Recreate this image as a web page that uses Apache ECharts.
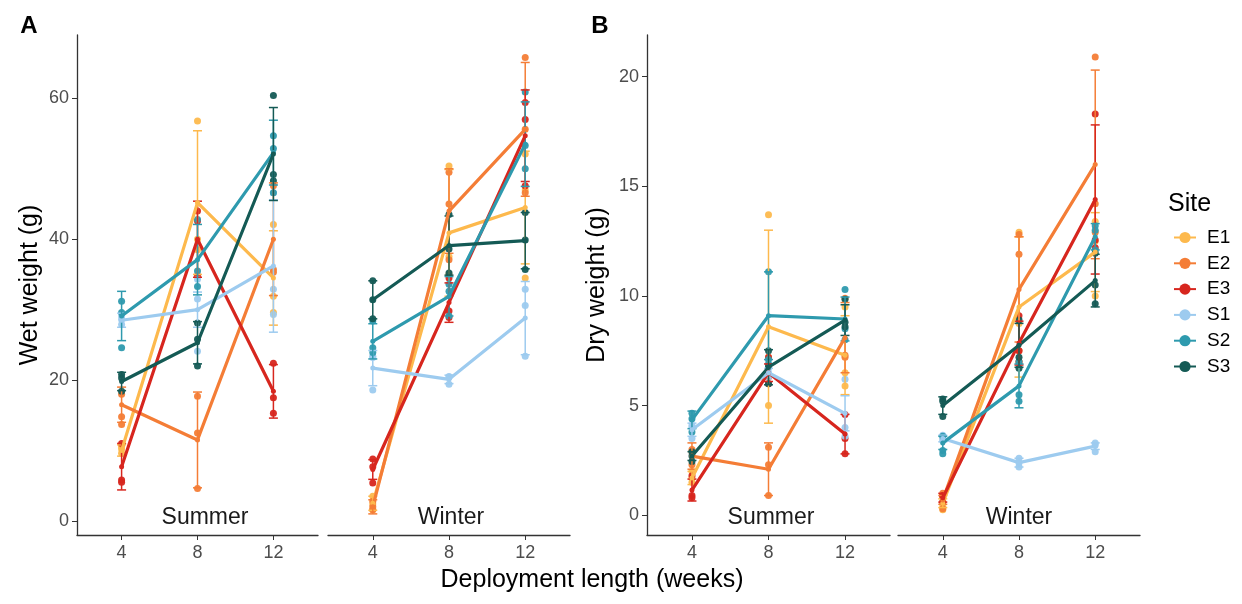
<!DOCTYPE html>
<html>
<head>
<meta charset="utf-8">
<script src="https://cdn.jsdelivr.net/npm/echarts@6/dist/echarts.min.js"></script>
<style>
html, body { margin: 0; background: #fff; }
#chart { width: 1242px; height: 604px; }
</style>
</head>
<body>
<div id="chart"></div>
<script>
// x positions (weeks) and sites
const weeks = [4, 8, 12];
const sites = ['E1', 'E2', 'E3', 'S1', 'S2', 'S3'];
const siteColors = ['#FDB94D', '#F47D36', '#D7261E', '#9DCBEF', '#2E9AAE', '#145A55'];

const wetTicks = [0, 20, 40, 60];
const dryTicks = [0, 5, 10, 15, 20];

// wet weight, summer: mean per week, error half-width, replicate points
const wetSummerMean = [
	[10, 45.2, 34.5], [16.5, 11.5, 40], [7.7, 40, 18.4],
	[28.5, 30, 36.2], [29.1, 37.1, 52.3], [19.8, 25.3, 52.1]
];
const wetSummerErr = [
	[0.8, 10.2, 6.7], [2.5, 6.8, 8], [3.3, 5.4, 3.8],
	[1, 2.5, 9.4], [3.5, 5, 4.6], [1.3, 3, 6.6]
];
const wetSummerPts = [
	[[10.2, 9.6, 10.6], [56.8, 40, 38.5], [42.1, 31.9, 29.6]],
	[[14.8, 13.7, 18], [17.7, 12.5, 4.6], [47.6, 35.7, 35.3]],
	[[11.0, 5.8, 5.5], [44.0, 42.6, 34.8], [22.4, 17.5, 15.3]],
	[[27.9, 29.1, 28.6], [31.5, 24.1, 34.3], [46.6, 32.9, 29.3]],
	[[31.2, 29.6, 24.6], [42.8, 35.5, 33.3], [54.7, 52.9, 46.6]],
	[[20.8, 20.3, 18.4], [28.1, 22.0, 25.8], [60.4, 49.2, 48.3]]
];

// wet weight, winter
const wetWinterMean = [
	[2.5, 40.9, 44.5], [2.0, 44.0, 55.6], [7.3, 31.0, 54.7],
	[21.7, 20.1, 28.8], [25.5, 31.9, 53.5], [31.4, 39.1, 39.8]
];
const wetWinterErr = [
	[1, 9, 8], [1, 6, 9.5], [1.4, 2.8, 6.5],
	[2.5, 0.6, 5.2], [2.5, 2.8, 6], [2.7, 4.2, 4]
];
const wetWinterPts = [
	[[3.5, 1.6, 2.4], [50.4, 37.5, 35], [52.1, 34.5, 47]],
	[[2.8, 2.0, 1.6], [49.5, 37.1, 45], [65.8, 55.6, 46.6]],
	[[7.7, 5.4, 8.8], [34.5, 29.8, 28.9], [59.4, 47.6, 57]],
	[[23.4, 18.6, 23.2], [20.4, 19.4, 20.5], [32.9, 30.6, 23.4]],
	[[24.6, 23.9, 28.4], [33.6, 32.6, 29.1], [60.9, 53.3, 50.0]],
	[[34.1, 28.7, 31.4], [43.5, 35.2, 38.6], [43.8, 35.7, 39.9]]
];

// dry weight, summer
const drySummerMean = [
	[1.7, 8.6, 7.3], [2.7, 2.1, 8.1], [1.15, 6.5, 3.7],
	[3.9, 6.5, 4.65], [4.35, 9.1, 8.95], [2.7, 6.75, 8.9]
];
const drySummerErr = [
	[0.3, 4.4, 1.8], [0.6, 1.2, 1.6], [0.5, 0.4, 0.9],
	[0.3, 0.2, 0.8], [0.4, 2.0, 1.0], [0.2, 0.8, 0.7]
];
const drySummerPts = [
	[[1.7, 1.5, 2.0], [13.7, 7.2, 5.0], [9.5, 6.5, 5.9]],
	[[2.3, 2.9, 3.0], [3.1, 0.9, 2.3], [9.9, 7.3, 7.2]],
	[[1.8, 0.9, 0.8], [6.3, 6.0, 7.2], [4.6, 3.5, 2.8]],
	[[4.0, 3.5, 4.1], [6.5, 6.7, 6.3], [6.2, 4.0, 3.6]],
	[[4.65, 4.4, 3.8], [11.1, 7.1, 6.9], [10.3, 8.0, 8.5]],
	[[2.7, 2.45, 2.9], [7.5, 6.0, 6.8], [9.85, 8.8, 8.6]]
];

// dry weight, winter
const dryWinterMean = [
	[0.55, 9.5, 12.0], [0.7, 10.3, 16.0], [0.8, 7.85, 14.4],
	[3.5, 2.4, 3.15], [3.3, 5.9, 12.7], [5.0, 7.75, 10.7]
];
const dryWinterErr = [
	[0.2, 3.2, 1.8], [0.2, 2.4, 4.3], [0.2, 1.0, 3.4],
	[0.15, 0.2, 0.15], [0.3, 1.0, 0.6], [0.4, 1.0, 1.2]
];
const dryWinterPts = [
	[[0.4, 0.25, 0.9], [12.9, 8.75, 7.0], [13.4, 10.0, 12.5]],
	[[0.6, 0.3, 1.0], [12.8, 11.9, 7.5], [20.9, 14.2, 12.9]],
	[[0.85, 0.6, 0.9], [9.1, 7.5, 7.0], [18.3, 12.55, 12.2]],
	[[3.65, 3.4, 3.5], [2.6, 2.2, 2.4], [3.3, 2.9, 3.2]],
	[[3.6, 2.95, 2.8], [5.5, 5.2, 7.0], [13.2, 13.0, 12.1]],
	[[5.3, 4.5, 5.2], [8.9, 7.2, 6.7], [11.95, 9.65, 10.5]]
];

const FONT = 'Liberation Sans';
const axisColor = '#333';
const labelColor = '#4d4d4d';

const facets = [
	{ mean: wetSummerMean, err: wetSummerErr, pts: wetSummerPts },
	{ mean: wetWinterMean, err: wetWinterErr, pts: wetWinterPts },
	{ mean: drySummerMean, err: drySummerErr, pts: drySummerPts },
	{ mean: dryWinterMean, err: dryWinterErr, pts: dryWinterPts }
];

const grids = [
	{ left: 77, top: 35, width: 241, height: 500 },
	{ left: 328, top: 35, width: 242, height: 500 },
	{ left: 647, top: 35, width: 243, height: 500 },
	{ left: 898, top: 35, width: 242, height: 500 }
];

const xAxes = grids.map((g, i) => ({
	type: 'value',
	gridIndex: i,
	min: 1.65,
	max: 14.35,
	axisLine: { show: true, onZero: false, lineStyle: { color: axisColor, width: 1.3 } },
	axisTick: { show: true, length: 5, customValues: weeks, lineStyle: { color: axisColor } },
	axisLabel: { customValues: weeks, color: labelColor, fontSize: 18, fontFamily: FONT, margin: 9 },
	splitLine: { show: false }
}));

function yAxis(i, min, max, ticks, name, gap) {
	const shown = name !== null;
	return {
		type: 'value',
		gridIndex: i,
		min: min,
		max: max,
		name: shown ? name : '',
		nameLocation: 'middle',
		nameGap: gap,
		nameTextStyle: { fontSize: 25, fontFamily: FONT, color: '#000' },
		axisLine: { show: shown, onZero: false, lineStyle: { color: axisColor, width: 1.3 } },
		axisTick: { show: shown, length: 5, customValues: ticks, lineStyle: { color: axisColor } },
		axisLabel: { show: shown, customValues: ticks, color: labelColor, fontSize: 18, fontFamily: FONT, margin: 8 },
		splitLine: { show: false }
	};
}

const yAxes = [
	yAxis(0, -2, 69, wetTicks, 'Wet weight (g)', 34),
	yAxis(1, -2, 69, wetTicks, null, 0),
	yAxis(2, -0.9, 21.9, dryTicks, 'Dry weight (g)', 37),
	yAxis(3, -0.9, 21.9, dryTicks, null, 0)
];

function renderErr(params, api) {
	const x = api.value(0);
	const top = api.coord([x, api.value(2)]);
	const bot = api.coord([x, api.value(1)]);
	const w = 4.5;
	const style = { stroke: api.visual('color'), lineWidth: 1.5 };
	return {
		type: 'group',
		children: [
			{ type: 'line', shape: { x1: top[0], y1: top[1], x2: bot[0], y2: bot[1] }, style: style },
			{ type: 'line', shape: { x1: top[0] - w, y1: top[1], x2: top[0] + w, y2: top[1] }, style: style },
			{ type: 'line', shape: { x1: bot[0] - w, y1: bot[1], x2: bot[0] + w, y2: bot[1] }, style: style }
		]
	};
}

const lineSeries = [];
const otherSeries = [];
facets.forEach((f, fi) => {
	sites.forEach((site, si) => {
		const color = siteColors[si];
		lineSeries.push({
			name: site,
			type: 'line',
			xAxisIndex: fi,
			yAxisIndex: fi,
			data: weeks.map((w, k) => [w, f.mean[si][k]]),
			symbol: 'circle',
			symbolSize: 5,
			showSymbol: true,
			lineStyle: { color: color, width: 3.2 },
			itemStyle: { color: color },
			z: 4,
			animation: false
		});
		otherSeries.push({
			name: site,
			type: 'custom',
			xAxisIndex: fi,
			yAxisIndex: fi,
			renderItem: renderErr,
			itemStyle: { color: color },
			data: weeks.map((w, k) => [w, f.mean[si][k] - f.err[si][k], f.mean[si][k] + f.err[si][k]]),
			z: 3,
			animation: false
		});
		const pts = [];
		weeks.forEach((w, k) => f.pts[si][k].forEach(v => pts.push([w, v])));
		otherSeries.push({
			name: site,
			type: 'scatter',
			xAxisIndex: fi,
			yAxisIndex: fi,
			data: pts,
			symbolSize: 7,
			itemStyle: { color: color, opacity: 0.95 },
			z: 2,
			animation: false
		});
	});
});

const facetLabels = [
	{ text: 'Summer', x: 205 },
	{ text: 'Winter', x: 451 },
	{ text: 'Summer', x: 771 },
	{ text: 'Winter', x: 1019 }
];

const graphics = facetLabels.map(l => ({
	type: 'text',
	x: l.x,
	y: 518,
	style: { text: l.text, fontSize: 23, fontFamily: FONT, fill: '#1a1a1a', align: 'center', verticalAlign: 'middle' }
}));
graphics.push(
	{ type: 'text', x: 592, y: 580, style: { text: 'Deployment length (weeks)', fontSize: 25, fontFamily: FONT, fill: '#000', align: 'center', verticalAlign: 'middle' } },
	{ type: 'text', x: 29, y: 26, style: { text: 'A', fontSize: 24, fontWeight: 'bold', fontFamily: FONT, fill: '#000', align: 'center', verticalAlign: 'middle' } },
	{ type: 'text', x: 600, y: 26, style: { text: 'B', fontSize: 24, fontWeight: 'bold', fontFamily: FONT, fill: '#000', align: 'center', verticalAlign: 'middle' } },
	{ type: 'text', x: 1168, y: 204, style: { text: 'Site', fontSize: 25, fontFamily: FONT, fill: '#000', align: 'left', verticalAlign: 'middle' } }
);

const chart = echarts.init(document.getElementById('chart'));
chart.setOption({
	animation: false,
	backgroundColor: '#fff',
	grid: grids,
	xAxis: xAxes,
	yAxis: yAxes,
	legend: {
		data: sites,
		orient: 'vertical',
		left: 1168,
		top: 223,
		itemWidth: 22,
		itemHeight: 14,
		itemGap: 6.8,
		selectedMode: false,
		textStyle: { fontSize: 19, lineHeight: 16, fontFamily: FONT, color: '#000', padding: [0, 0, 0, 6] }
	},
	graphic: graphics,
	series: lineSeries.concat(otherSeries)
});
</script>
</body>
</html>
